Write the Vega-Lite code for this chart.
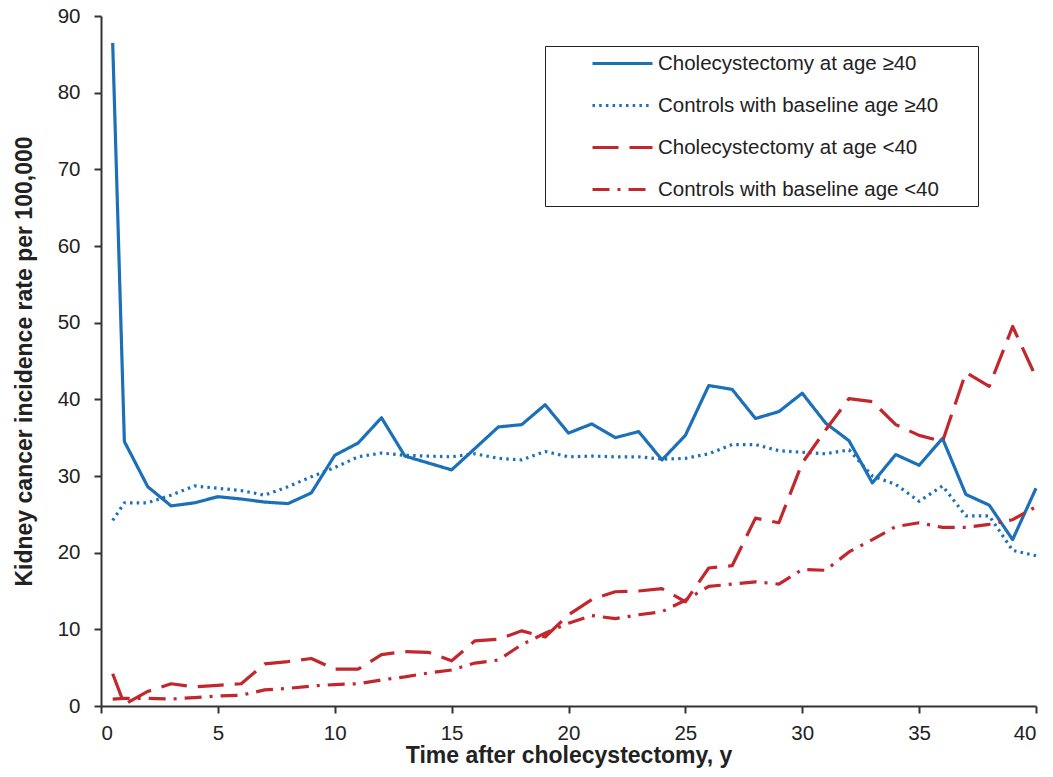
{
  "$schema": "https://vega.github.io/schema/vega-lite/v6.json",
  "width": 935,
  "height": 690,
  "autosize": {"type": "none"},
  "padding": {"left": 101, "top": 16, "right": 17, "bottom": 71},
  "background": "white",
  "config": {
    "view": {"stroke": null},
    "font": "Liberation Sans",
    "axis": {
      "domainColor": "#333333", "domainWidth": 2, "tickColor": "#333333", "tickWidth": 2, "tickSize": 7,
      "labelFontSize": 20.5, "labelColor": "#222222", "labelFont": "Liberation Sans", "labelPadding": 10,
      "titleFontSize": 23, "titleFontWeight": "bold", "titleColor": "#222222", "titleFont": "Liberation Sans",
      "grid": false
    },
    "legend": {
      "orient": "none", "legendX": 444, "legendY": 30,
      "strokeColor": "#222222", "fillColor": "white", "padding": 6,
      "symbolType": "M-3,0H3", "symbolSize": 400, "symbolStrokeWidth": 3,
      "labelFontSize": 20.5, "labelColor": "#222222", "labelFont": "Liberation Sans", "labelLimit": 0,
      "symbolOffset": 60, "labelOffset": 24, "rowPadding": 20,
      "titleOrient": "right", "titlePadding": 33, "titleFontSize": 20, "titleColor": "#ffffff"
    }
  },
  "data": {
    "values": [
      {"t": 0.5, "g": "Cholecystectomy at age ≥40", "v": 86.5},
      {"t": 1, "g": "Cholecystectomy at age ≥40", "v": 34.5},
      {"t": 2, "g": "Cholecystectomy at age ≥40", "v": 28.6},
      {"t": 3, "g": "Cholecystectomy at age ≥40", "v": 26.1},
      {"t": 4, "g": "Cholecystectomy at age ≥40", "v": 26.5},
      {"t": 5, "g": "Cholecystectomy at age ≥40", "v": 27.3},
      {"t": 6, "g": "Cholecystectomy at age ≥40", "v": 27.0},
      {"t": 7, "g": "Cholecystectomy at age ≥40", "v": 26.6},
      {"t": 8, "g": "Cholecystectomy at age ≥40", "v": 26.4},
      {"t": 9, "g": "Cholecystectomy at age ≥40", "v": 27.8},
      {"t": 10, "g": "Cholecystectomy at age ≥40", "v": 32.7},
      {"t": 11, "g": "Cholecystectomy at age ≥40", "v": 34.3},
      {"t": 12, "g": "Cholecystectomy at age ≥40", "v": 37.6},
      {"t": 13, "g": "Cholecystectomy at age ≥40", "v": 32.6},
      {"t": 14, "g": "Cholecystectomy at age ≥40", "v": 31.7},
      {"t": 15, "g": "Cholecystectomy at age ≥40", "v": 30.8},
      {"t": 16, "g": "Cholecystectomy at age ≥40", "v": 33.6},
      {"t": 17, "g": "Cholecystectomy at age ≥40", "v": 36.4},
      {"t": 18, "g": "Cholecystectomy at age ≥40", "v": 36.7},
      {"t": 19, "g": "Cholecystectomy at age ≥40", "v": 39.3},
      {"t": 20, "g": "Cholecystectomy at age ≥40", "v": 35.6},
      {"t": 21, "g": "Cholecystectomy at age ≥40", "v": 36.8},
      {"t": 22, "g": "Cholecystectomy at age ≥40", "v": 35.0},
      {"t": 23, "g": "Cholecystectomy at age ≥40", "v": 35.8},
      {"t": 24, "g": "Cholecystectomy at age ≥40", "v": 32.1},
      {"t": 25, "g": "Cholecystectomy at age ≥40", "v": 35.3},
      {"t": 26, "g": "Cholecystectomy at age ≥40", "v": 41.8},
      {"t": 27, "g": "Cholecystectomy at age ≥40", "v": 41.3},
      {"t": 28, "g": "Cholecystectomy at age ≥40", "v": 37.5},
      {"t": 29, "g": "Cholecystectomy at age ≥40", "v": 38.4},
      {"t": 30, "g": "Cholecystectomy at age ≥40", "v": 40.8},
      {"t": 31, "g": "Cholecystectomy at age ≥40", "v": 36.9},
      {"t": 32, "g": "Cholecystectomy at age ≥40", "v": 34.6},
      {"t": 33, "g": "Cholecystectomy at age ≥40", "v": 29.1},
      {"t": 34, "g": "Cholecystectomy at age ≥40", "v": 32.8},
      {"t": 35, "g": "Cholecystectomy at age ≥40", "v": 31.4},
      {"t": 36, "g": "Cholecystectomy at age ≥40", "v": 34.9},
      {"t": 37, "g": "Cholecystectomy at age ≥40", "v": 27.6},
      {"t": 38, "g": "Cholecystectomy at age ≥40", "v": 26.2},
      {"t": 39, "g": "Cholecystectomy at age ≥40", "v": 21.7},
      {"t": 40, "g": "Cholecystectomy at age ≥40", "v": 28.4},

      {"t": 0.5, "g": "Controls with baseline age ≥40", "v": 24.2},
      {"t": 1, "g": "Controls with baseline age ≥40", "v": 26.5},
      {"t": 2, "g": "Controls with baseline age ≥40", "v": 26.5},
      {"t": 3, "g": "Controls with baseline age ≥40", "v": 27.5},
      {"t": 4, "g": "Controls with baseline age ≥40", "v": 28.7},
      {"t": 5, "g": "Controls with baseline age ≥40", "v": 28.4},
      {"t": 6, "g": "Controls with baseline age ≥40", "v": 28.1},
      {"t": 7, "g": "Controls with baseline age ≥40", "v": 27.5},
      {"t": 8, "g": "Controls with baseline age ≥40", "v": 28.6},
      {"t": 9, "g": "Controls with baseline age ≥40", "v": 29.9},
      {"t": 10, "g": "Controls with baseline age ≥40", "v": 31.1},
      {"t": 11, "g": "Controls with baseline age ≥40", "v": 32.5},
      {"t": 12, "g": "Controls with baseline age ≥40", "v": 33.0},
      {"t": 13, "g": "Controls with baseline age ≥40", "v": 32.7},
      {"t": 14, "g": "Controls with baseline age ≥40", "v": 32.6},
      {"t": 15, "g": "Controls with baseline age ≥40", "v": 32.5},
      {"t": 16, "g": "Controls with baseline age ≥40", "v": 32.9},
      {"t": 17, "g": "Controls with baseline age ≥40", "v": 32.3},
      {"t": 18, "g": "Controls with baseline age ≥40", "v": 32.1},
      {"t": 19, "g": "Controls with baseline age ≥40", "v": 33.2},
      {"t": 20, "g": "Controls with baseline age ≥40", "v": 32.5},
      {"t": 21, "g": "Controls with baseline age ≥40", "v": 32.6},
      {"t": 22, "g": "Controls with baseline age ≥40", "v": 32.5},
      {"t": 23, "g": "Controls with baseline age ≥40", "v": 32.5},
      {"t": 24, "g": "Controls with baseline age ≥40", "v": 32.2},
      {"t": 25, "g": "Controls with baseline age ≥40", "v": 32.3},
      {"t": 26, "g": "Controls with baseline age ≥40", "v": 32.9},
      {"t": 27, "g": "Controls with baseline age ≥40", "v": 34.1},
      {"t": 28, "g": "Controls with baseline age ≥40", "v": 34.1},
      {"t": 29, "g": "Controls with baseline age ≥40", "v": 33.3},
      {"t": 30, "g": "Controls with baseline age ≥40", "v": 33.1},
      {"t": 31, "g": "Controls with baseline age ≥40", "v": 32.9},
      {"t": 32, "g": "Controls with baseline age ≥40", "v": 33.4},
      {"t": 33, "g": "Controls with baseline age ≥40", "v": 30.0},
      {"t": 34, "g": "Controls with baseline age ≥40", "v": 28.9},
      {"t": 35, "g": "Controls with baseline age ≥40", "v": 26.7},
      {"t": 36, "g": "Controls with baseline age ≥40", "v": 28.7},
      {"t": 37, "g": "Controls with baseline age ≥40", "v": 24.8},
      {"t": 38, "g": "Controls with baseline age ≥40", "v": 24.8},
      {"t": 39, "g": "Controls with baseline age ≥40", "v": 20.3},
      {"t": 40, "g": "Controls with baseline age ≥40", "v": 19.6},

      {"t": 0.5, "g": "Cholecystectomy at age <40", "v": 4.2},
      {"t": 1, "g": "Cholecystectomy at age <40", "v": 0.2},
      {"t": 2, "g": "Cholecystectomy at age <40", "v": 1.9},
      {"t": 3, "g": "Cholecystectomy at age <40", "v": 2.9},
      {"t": 4, "g": "Cholecystectomy at age <40", "v": 2.5},
      {"t": 5, "g": "Cholecystectomy at age <40", "v": 2.7},
      {"t": 6, "g": "Cholecystectomy at age <40", "v": 2.9},
      {"t": 7, "g": "Cholecystectomy at age <40", "v": 5.5},
      {"t": 8, "g": "Cholecystectomy at age <40", "v": 5.8},
      {"t": 9, "g": "Cholecystectomy at age <40", "v": 6.2},
      {"t": 10, "g": "Cholecystectomy at age <40", "v": 4.8},
      {"t": 11, "g": "Cholecystectomy at age <40", "v": 4.8},
      {"t": 12, "g": "Cholecystectomy at age <40", "v": 6.7},
      {"t": 13, "g": "Cholecystectomy at age <40", "v": 7.1},
      {"t": 14, "g": "Cholecystectomy at age <40", "v": 7.0},
      {"t": 15, "g": "Cholecystectomy at age <40", "v": 5.9},
      {"t": 16, "g": "Cholecystectomy at age <40", "v": 8.5},
      {"t": 17, "g": "Cholecystectomy at age <40", "v": 8.7},
      {"t": 18, "g": "Cholecystectomy at age <40", "v": 9.8},
      {"t": 19, "g": "Cholecystectomy at age <40", "v": 9.0},
      {"t": 20, "g": "Cholecystectomy at age <40", "v": 11.9},
      {"t": 21, "g": "Cholecystectomy at age <40", "v": 13.9},
      {"t": 22, "g": "Cholecystectomy at age <40", "v": 14.9},
      {"t": 23, "g": "Cholecystectomy at age <40", "v": 15.0},
      {"t": 24, "g": "Cholecystectomy at age <40", "v": 15.3},
      {"t": 25, "g": "Cholecystectomy at age <40", "v": 13.6},
      {"t": 26, "g": "Cholecystectomy at age <40", "v": 18.0},
      {"t": 27, "g": "Cholecystectomy at age <40", "v": 18.3},
      {"t": 28, "g": "Cholecystectomy at age <40", "v": 24.5},
      {"t": 29, "g": "Cholecystectomy at age <40", "v": 23.9},
      {"t": 30, "g": "Cholecystectomy at age <40", "v": 31.7},
      {"t": 31, "g": "Cholecystectomy at age <40", "v": 36.0},
      {"t": 32, "g": "Cholecystectomy at age <40", "v": 40.1},
      {"t": 33, "g": "Cholecystectomy at age <40", "v": 39.7},
      {"t": 34, "g": "Cholecystectomy at age <40", "v": 36.7},
      {"t": 35, "g": "Cholecystectomy at age <40", "v": 35.3},
      {"t": 36, "g": "Cholecystectomy at age <40", "v": 34.5},
      {"t": 37, "g": "Cholecystectomy at age <40", "v": 43.5},
      {"t": 38, "g": "Cholecystectomy at age <40", "v": 41.7},
      {"t": 39, "g": "Cholecystectomy at age <40", "v": 49.5},
      {"t": 40, "g": "Cholecystectomy at age <40", "v": 42.9},

      {"t": 0.5, "g": "Controls with baseline age <40", "v": 0.9},
      {"t": 1, "g": "Controls with baseline age <40", "v": 1.0},
      {"t": 2, "g": "Controls with baseline age <40", "v": 1.0},
      {"t": 3, "g": "Controls with baseline age <40", "v": 0.9},
      {"t": 4, "g": "Controls with baseline age <40", "v": 1.1},
      {"t": 5, "g": "Controls with baseline age <40", "v": 1.3},
      {"t": 6, "g": "Controls with baseline age <40", "v": 1.4},
      {"t": 7, "g": "Controls with baseline age <40", "v": 2.1},
      {"t": 8, "g": "Controls with baseline age <40", "v": 2.3},
      {"t": 9, "g": "Controls with baseline age <40", "v": 2.6},
      {"t": 10, "g": "Controls with baseline age <40", "v": 2.8},
      {"t": 11, "g": "Controls with baseline age <40", "v": 2.9},
      {"t": 12, "g": "Controls with baseline age <40", "v": 3.4},
      {"t": 13, "g": "Controls with baseline age <40", "v": 3.8},
      {"t": 14, "g": "Controls with baseline age <40", "v": 4.3},
      {"t": 15, "g": "Controls with baseline age <40", "v": 4.7},
      {"t": 16, "g": "Controls with baseline age <40", "v": 5.6},
      {"t": 17, "g": "Controls with baseline age <40", "v": 6.0},
      {"t": 18, "g": "Controls with baseline age <40", "v": 8.0},
      {"t": 19, "g": "Controls with baseline age <40", "v": 9.5},
      {"t": 20, "g": "Controls with baseline age <40", "v": 10.8},
      {"t": 21, "g": "Controls with baseline age <40", "v": 11.8},
      {"t": 22, "g": "Controls with baseline age <40", "v": 11.4},
      {"t": 23, "g": "Controls with baseline age <40", "v": 11.9},
      {"t": 24, "g": "Controls with baseline age <40", "v": 12.3},
      {"t": 25, "g": "Controls with baseline age <40", "v": 13.8},
      {"t": 26, "g": "Controls with baseline age <40", "v": 15.6},
      {"t": 27, "g": "Controls with baseline age <40", "v": 15.9},
      {"t": 28, "g": "Controls with baseline age <40", "v": 16.2},
      {"t": 29, "g": "Controls with baseline age <40", "v": 15.9},
      {"t": 30, "g": "Controls with baseline age <40", "v": 17.8},
      {"t": 31, "g": "Controls with baseline age <40", "v": 17.7},
      {"t": 32, "g": "Controls with baseline age <40", "v": 20.1},
      {"t": 33, "g": "Controls with baseline age <40", "v": 21.7},
      {"t": 34, "g": "Controls with baseline age <40", "v": 23.4},
      {"t": 35, "g": "Controls with baseline age <40", "v": 23.9},
      {"t": 36, "g": "Controls with baseline age <40", "v": 23.3},
      {"t": 37, "g": "Controls with baseline age <40", "v": 23.3},
      {"t": 38, "g": "Controls with baseline age <40", "v": 23.7},
      {"t": 39, "g": "Controls with baseline age <40", "v": 24.3},
      {"t": 40, "g": "Controls with baseline age <40", "v": 26.0}
    ]
  },
  "mark": {"type": "line", "strokeWidth": 3.2, "strokeCap": "butt", "strokeJoin": "round"},
  "encoding": {
    "x": {
      "field": "t", "type": "quantitative",
      "scale": {"domain": [0, 40], "nice": false, "zero": true},
      "axis": {"values": [0, 5, 10, 15, 20, 25, 30, 35, 40], "title": "Time after cholecystectomy, y", "titlePadding": 1}
    },
    "y": {
      "field": "v", "type": "quantitative",
      "scale": {"domain": [0, 90], "nice": false},
      "axis": {"values": [0, 10, 20, 30, 40, 50, 60, 70, 80, 90], "title": "Kidney cancer incidence rate per 100,000", "titlePadding": 21, "labelPadding": 14}
    },
    "color": {
      "field": "g", "type": "nominal",
      "scale": {
        "domain": ["Cholecystectomy at age ≥40", "Controls with baseline age ≥40", "Cholecystectomy at age <40", "Controls with baseline age <40"],
        "range": ["#1B70B7", "#1B70B7", "#C1272D", "#C1272D"]
      },
      "legend": {"title": "\u2002"}
    },
    "strokeDash": {
      "field": "g", "type": "nominal",
      "scale": {
        "domain": ["Cholecystectomy at age ≥40", "Controls with baseline age ≥40", "Cholecystectomy at age <40", "Controls with baseline age <40"],
        "range": [[1, 0], [2.5, 4.2], [26, 11], [17, 8, 3, 8]]
      },
      "legend": {"title": "\u2002"}
    }
  }
}
